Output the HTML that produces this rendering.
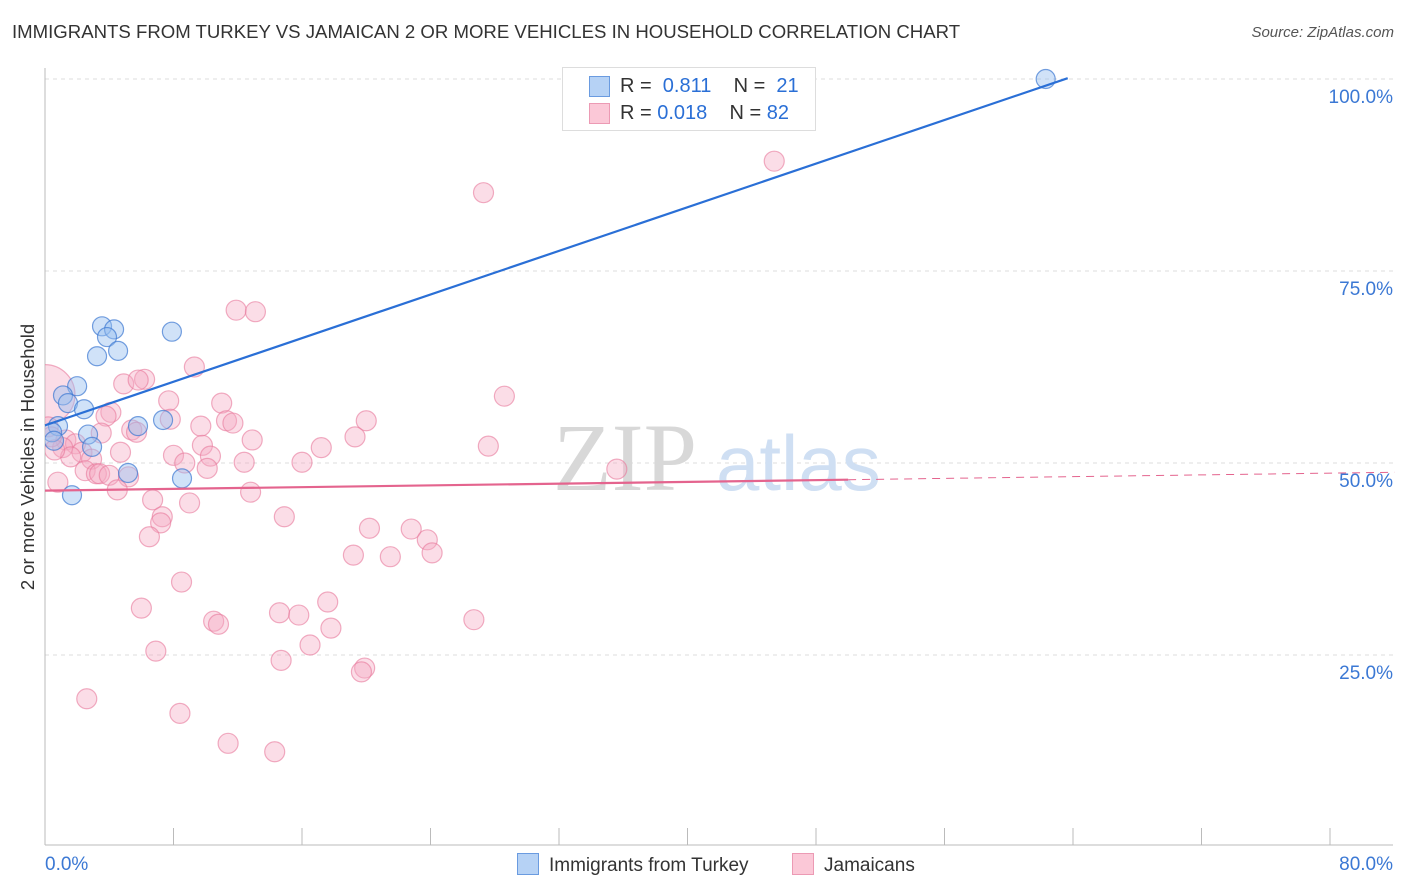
<!DOCTYPE html>
<html><head><meta charset="utf-8"><style>
body{margin:0;background:#fff;font-family:"Liberation Sans",sans-serif;}
#wrap{position:relative;width:1406px;height:892px;overflow:hidden;}
.t{position:absolute;white-space:nowrap;}
</style></head><body>
<div id="wrap">
<div class="t" style="left:12px;top:21px;font-size:18.6px;color:#333;">IMMIGRANTS FROM TURKEY VS JAMAICAN 2 OR MORE VEHICLES IN HOUSEHOLD CORRELATION CHART</div>
<div class="t" style="right:12px;top:24px;font-size:15px;color:#555;font-style:italic;">Source: ZipAtlas.com</div>
<svg id="svg" width="1406" height="892" style="position:absolute;left:0;top:0"><defs><clipPath id="pc"><rect x="45" y="60" width="1360" height="786"/></clipPath></defs></svg>
</div>
<script>
const blueX=[62.3,3.55,4.3,7.9,3.86,4.55,3.24,2.0,1.12,1.43,2.43,5.79,7.35,0.81,0.44,2.68,0.56,2.93,5.17,8.53,1.68];
const blueY=[100,67.8,67.4,67.1,66.4,64.6,63.9,60.0,58.8,57.8,57.0,54.8,55.6,54.8,54.0,53.7,52.9,52.1,48.7,48.0,45.8];
const pinkX=[0,27.3,45.4,11.9,13.1,9.3,4.9,6.2,5.8,28.6,7.7,11.0,4.1,3.8,7.8,11.3,11.7,20.0,9.7,5.4,3.5,19.3,12.9,1.3,1.9,1.1,9.8,27.6,4.7,2.3,17.2,2.9,8.0,1.6,10.3,8.7,12.4,16.0,35.6,10.1,2.5,3.2,3.4,4.0,5.2,0.8,4.5,12.8,6.7,9.0,7.3,7.2,14.9,6.5,20.2,22.8,23.8,19.2,21.5,24.1,8.5,17.6,6.0,14.6,15.8,10.5,10.8,26.7,17.8,16.5,6.9,14.7,19.9,19.7,2.6,8.4,11.4,14.3,0.2,0.4,5.7,0.6];
const pinkY=[58.9,85.2,89.3,69.9,69.7,62.5,60.3,60.9,60.8,58.7,58.1,57.8,56.6,56.1,55.7,55.5,55.2,55.5,54.8,54.3,53.9,53.4,53.0,53.0,52.5,52.0,52.3,52.2,51.4,51.4,52.0,50.5,51.0,50.8,50.9,50.0,50.1,50.1,49.2,49.3,49.0,48.6,48.6,48.4,48.2,47.5,46.5,46.2,45.2,44.8,43.0,42.2,43.0,40.4,41.5,41.4,40.0,38.0,37.8,38.3,34.5,31.9,31.1,30.5,30.2,29.4,29.0,29.6,28.5,26.3,25.5,24.3,23.3,22.8,19.3,17.4,13.5,12.4,54.7,53.4,54.0,51.7];
const yTicks=[25,50,75,100];
const yTickLabels=["25.0%","50.0%","75.0%","100.0%"];
const xEndLabels=["0.0%","80.0%"];
const blueLine=[54.9,0.71];   // intercept, slope
const pinkLine=[46.4,0.0285];

const X=v=>45+v*1285/80, Y=v=>847-v*7.68;
const svg=document.getElementById('svg'),NS='http://www.w3.org/2000/svg';
function mk(tag,a,parent){const e=document.createElementNS(NS,tag);for(const k in a)e.setAttribute(k,a[k]);(parent||svg).appendChild(e);return e;}
yTicks.forEach((t,i)=>{
 const g=mk('line',{x1:45,x2:1393,y1:Y(t),y2:Y(t),stroke:'#ddd','stroke-dasharray':'4,4'});
 
 
 const tx=mk('text',{x:1393,y:Y(t)+24,'text-anchor':'end','font-size':19,fill:'#3b78d4','font-family':'Liberation Sans, sans-serif'});
 tx.textContent=yTickLabels[i];
 
 
});
let ax=mk('line',{x1:45,x2:45,y1:68,y2:845,stroke:'#bbb'});


ax=mk('line',{x1:45,x2:1393,y1:845,y2:845,stroke:'#bbb'});


for(let i=1;i<=10;i++){const tk=mk('line',{x1:X(i*8),x2:X(i*8),y1:828,y2:845,stroke:'#bbb'});
 
 }
[[45,'start',0],[1393,'end',1]].forEach(([x,an,i])=>{const t=mk('text',{x:x,y:870,'text-anchor':an,'font-size':19,fill:'#3b78d4','font-family':'Liberation Sans, sans-serif'});t.textContent=xEndLabels[i];
 
 });
let yt=mk('text',{x:0,y:0,transform:'translate(34,457) rotate(-90)','text-anchor':'middle','font-size':18.5,fill:'#333','font-family':'Liberation Sans, sans-serif'});
yt.textContent='2 or more Vehicles in Household';


let wm=mk('text',{x:553,y:490,'font-size':96,fill:'#d8d8d8','font-family':'Liberation Serif, serif'});wm.textContent='ZIP';


wm=mk('text',{x:716,y:490,'font-size':78,fill:'#cfdff3','font-family':'Liberation Sans, sans-serif'});wm.textContent='atlas';


const gp=mk('g',{'clip-path':'url(#pc)'});
pinkX.forEach((x,i)=>{const c=mk('circle',{cx:X(x),cy:Y(pinkY[i]),r:i===0?30:10,fill:'rgba(244,170,195,0.4)',stroke:'rgba(232,120,155,0.6)','stroke-width':1.2},gp);
 
 });
blueX.forEach((x,i)=>{const c=mk('circle',{cx:X(x),cy:Y(blueY[i]),r:9.5,fill:'rgba(150,190,240,0.45)',stroke:'rgba(60,120,210,0.7)','stroke-width':1.2},gp);
 
 });
const bx2=(100-blueLine[0])/blueLine[1]+0.15;
let l=mk('line',{x1:X(0),y1:Y(blueLine[0]),x2:X(bx2),y2:Y(blueLine[0]+blueLine[1]*bx2),stroke:'#2a6fd6','stroke-width':2.2});


l=mk('line',{x1:X(0),y1:Y(pinkLine[0]),x2:X(50),y2:Y(pinkLine[0]+pinkLine[1]*50),stroke:'#e4648e','stroke-width':2.2});


l=mk('line',{x1:X(50),y1:Y(pinkLine[0]+pinkLine[1]*50),x2:X(84),y2:Y(pinkLine[0]+pinkLine[1]*84),stroke:'#e4648e','stroke-width':1,'stroke-dasharray':'8,6'});


</script>
<div class="t" style="left:562px;top:67px;width:252px;height:62px;border:1px solid #ddd;background:#fff;font-size:20px;">
 <div style="position:absolute;left:26px;top:8px;width:19px;height:19px;background:#b6d2f5;border:1px solid #6a9be0;"></div>
 <div class="t" style="left:57px;top:7px;color:#333">R = &nbsp;<span style="color:#2a6fd6">0.811</span>&nbsp;&nbsp;&nbsp; N = &nbsp;<span style="color:#2a6fd6">21</span></div>
 <div style="position:absolute;left:26px;top:35px;width:19px;height:19px;background:#fbc8d7;border:1px solid #ec9ab4;"></div>
 <div class="t" style="left:57px;top:34px;color:#333">R = <span style="color:#2a6fd6">0.018</span>&nbsp;&nbsp;&nbsp; N = <span style="color:#2a6fd6">82</span></div>
</div>
<div class="t" style="left:517px;top:853px;font-size:19px;color:#333"><span style="display:inline-block;width:20px;height:20px;background:#b6d2f5;border:1px solid #6a9be0;vertical-align:-4px;margin-right:10px"></span>Immigrants from Turkey</div>
<div class="t" style="left:792px;top:853px;font-size:19px;color:#333"><span style="display:inline-block;width:20px;height:20px;background:#fbc8d7;border:1px solid #ec9ab4;vertical-align:-4px;margin-right:10px"></span>Jamaicans</div>
</body></html>
